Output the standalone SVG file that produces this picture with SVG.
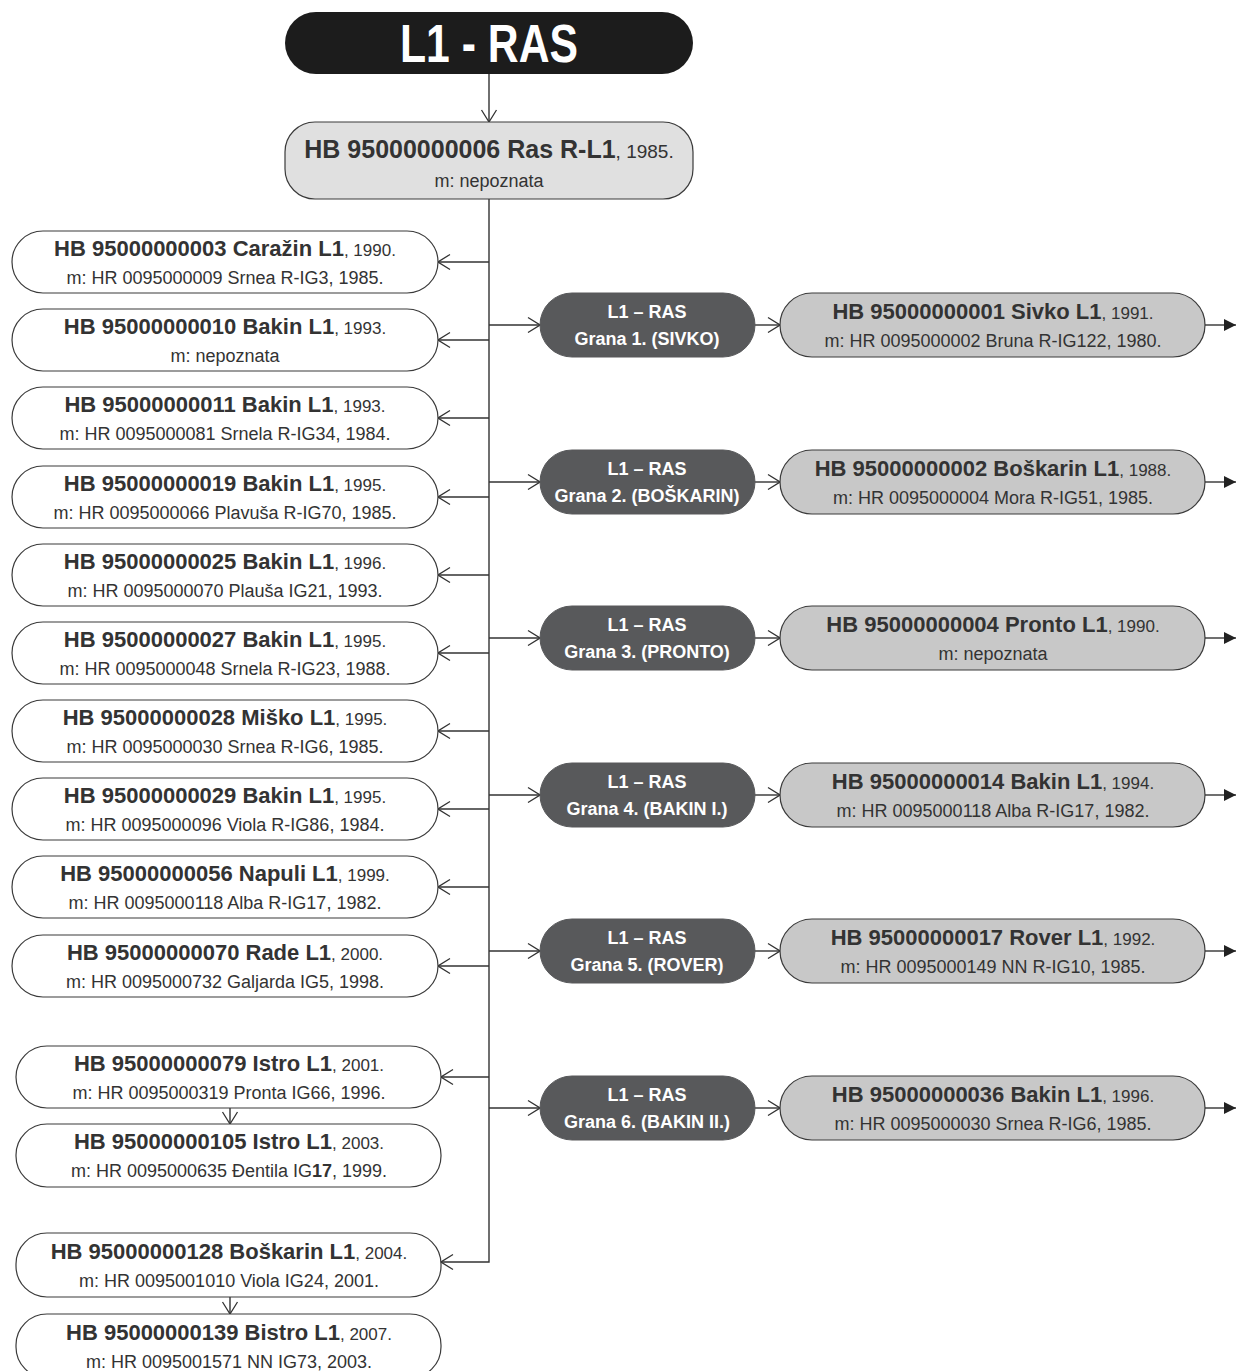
<svg xmlns="http://www.w3.org/2000/svg" width="1236" height="1371" viewBox="0 0 1236 1371">
<style>
text{font-family:"Liberation Sans",Arial,sans-serif;text-anchor:middle;fill:#333}
.b{font-weight:bold}
.t1{font-size:22px}
.t2{font-size:18px}
.yr{font-size:17px;font-weight:normal}
.left{fill:#fff;stroke:#3a3a3a;stroke-width:1.2}
.main{fill:#e0e0e0;stroke:#3a3a3a;stroke-width:1.2}
.right{fill:#c8c8c8;stroke:#3a3a3a;stroke-width:1.2}
.grana{fill:#58595b;stroke:#58595b}
.gt{fill:#fff;font-weight:bold;font-size:18px}
.con{fill:none;stroke:#333;stroke-width:1.4}
</style>
<defs>
<marker id="open" markerUnits="userSpaceOnUse" markerWidth="14" markerHeight="18" viewBox="0 0 14 18" refX="13" refY="9" orient="auto">
<path d="M1,1.5 L13,9 L1,16.5" fill="none" stroke="#333" stroke-width="1.3"/>
</marker>
<marker id="solid" markerUnits="userSpaceOnUse" markerWidth="12" markerHeight="12" viewBox="0 0 12 12" refX="12" refY="6" orient="auto">
<path d="M0,0 L12,6 L0,12 Z" fill="#222"/>
</marker>
</defs>

<g id="connectors">
<path class="con" d="M489,74 V122" marker-end="url(#open)"/>
<path class="con" d="M489,199 V1262 H441" marker-end="url(#open)"/>
<path class="con" d="M489,262 H438" marker-end="url(#open)"/>
<path class="con" d="M489,340 H438" marker-end="url(#open)"/>
<path class="con" d="M489,418 H438" marker-end="url(#open)"/>
<path class="con" d="M489,497 H438" marker-end="url(#open)"/>
<path class="con" d="M489,575 H438" marker-end="url(#open)"/>
<path class="con" d="M489,653 H438" marker-end="url(#open)"/>
<path class="con" d="M489,731 H438" marker-end="url(#open)"/>
<path class="con" d="M489,809 H438" marker-end="url(#open)"/>
<path class="con" d="M489,887 H438" marker-end="url(#open)"/>
<path class="con" d="M489,966 H438" marker-end="url(#open)"/>
<path class="con" d="M489,1077 H441" marker-end="url(#open)"/>
<path class="con" d="M230,1108 V1124" marker-end="url(#open)"/>
<path class="con" d="M230,1297 V1314" marker-end="url(#open)"/>
<path class="con" d="M489,325 H540" marker-end="url(#open)"/>
<path class="con" d="M489,482 H540" marker-end="url(#open)"/>
<path class="con" d="M489,638 H540" marker-end="url(#open)"/>
<path class="con" d="M489,795 H540" marker-end="url(#open)"/>
<path class="con" d="M489,951 H540" marker-end="url(#open)"/>
<path class="con" d="M489,1108 H540" marker-end="url(#open)"/>
<path class="con" d="M755,325 H780" marker-end="url(#open)"/>
<path class="con" d="M755,482 H780" marker-end="url(#open)"/>
<path class="con" d="M755,638 H780" marker-end="url(#open)"/>
<path class="con" d="M755,795 H780" marker-end="url(#open)"/>
<path class="con" d="M755,951 H780" marker-end="url(#open)"/>
<path class="con" d="M755,1108 H780" marker-end="url(#open)"/>
<path class="con" d="M1205,325 H1236" marker-end="url(#solid)"/>
<path class="con" d="M1205,482 H1236" marker-end="url(#solid)"/>
<path class="con" d="M1205,638 H1236" marker-end="url(#solid)"/>
<path class="con" d="M1205,795 H1236" marker-end="url(#solid)"/>
<path class="con" d="M1205,951 H1236" marker-end="url(#solid)"/>
<path class="con" d="M1205,1108 H1236" marker-end="url(#solid)"/>
</g>

<g id="title">
<rect x="285" y="12" width="408" height="62" rx="31" fill="#1c1c1c"/>
<text x="489" y="62" class="b" style="font-size:53px;fill:#fff" textLength="178" lengthAdjust="spacingAndGlyphs">L1 - RAS</text>
</g>

<g id="ras">
<rect class="main" x="285" y="122" width="408" height="77" rx="30"/>
<text x="489" y="158" class="b" style="font-size:25px">HB 95000000006 Ras R-L1<tspan style="font-size:19px;font-weight:normal">, 1985.</tspan></text>
<text x="489" y="187" class="t2">m: nepoznata</text>
</g>

<g id="n003">
<rect class="left" x="12" y="231" width="426" height="62" rx="31"/>
<text x="225" y="256" class="b t1">HB 95000000003 Caražin L1<tspan class="yr">, 1990.</tspan></text>
<text x="225" y="284" class="t2">m: HR 0095000009 Srnea R-IG3, 1985.</text>
</g>
<g id="n010">
<rect class="left" x="12" y="309" width="426" height="62" rx="31"/>
<text x="225" y="334" class="b t1">HB 95000000010 Bakin L1<tspan class="yr">, 1993.</tspan></text>
<text x="225" y="362" class="t2">m: nepoznata</text>
</g>
<g id="n011">
<rect class="left" x="12" y="387" width="426" height="62" rx="31"/>
<text x="225" y="412" class="b t1">HB 95000000011 Bakin L1<tspan class="yr">, 1993.</tspan></text>
<text x="225" y="440" class="t2">m: HR 0095000081 Srnela R-IG34, 1984.</text>
</g>
<g id="n019">
<rect class="left" x="12" y="466" width="426" height="62" rx="31"/>
<text x="225" y="491" class="b t1">HB 95000000019 Bakin L1<tspan class="yr">, 1995.</tspan></text>
<text x="225" y="519" class="t2">m: HR 0095000066 Plavuša R-IG70, 1985.</text>
</g>
<g id="n025">
<rect class="left" x="12" y="544" width="426" height="62" rx="31"/>
<text x="225" y="569" class="b t1">HB 95000000025 Bakin L1<tspan class="yr">, 1996.</tspan></text>
<text x="225" y="597" class="t2">m: HR 0095000070 Plauša IG21, 1993.</text>
</g>
<g id="n027">
<rect class="left" x="12" y="622" width="426" height="62" rx="31"/>
<text x="225" y="647" class="b t1">HB 95000000027 Bakin L1<tspan class="yr">, 1995.</tspan></text>
<text x="225" y="675" class="t2">m: HR 0095000048 Srnela R-IG23, 1988.</text>
</g>
<g id="n028">
<rect class="left" x="12" y="700" width="426" height="62" rx="31"/>
<text x="225" y="725" class="b t1">HB 95000000028 Miško L1<tspan class="yr">, 1995.</tspan></text>
<text x="225" y="753" class="t2">m: HR 0095000030 Srnea R-IG6, 1985.</text>
</g>
<g id="n029">
<rect class="left" x="12" y="778" width="426" height="62" rx="31"/>
<text x="225" y="803" class="b t1">HB 95000000029 Bakin L1<tspan class="yr">, 1995.</tspan></text>
<text x="225" y="831" class="t2">m: HR 0095000096 Viola R-IG86, 1984.</text>
</g>
<g id="n056">
<rect class="left" x="12" y="856" width="426" height="62" rx="31"/>
<text x="225" y="881" class="b t1">HB 95000000056 Napuli L1<tspan class="yr">, 1999.</tspan></text>
<text x="225" y="909" class="t2">m: HR 0095000118 Alba R-IG17, 1982.</text>
</g>
<g id="n070">
<rect class="left" x="12" y="935" width="426" height="62" rx="31"/>
<text x="225" y="960" class="b t1">HB 95000000070 Rade L1<tspan class="yr">, 2000.</tspan></text>
<text x="225" y="988" class="t2">m: HR 0095000732 Galjarda IG5, 1998.</text>
</g>
<g id="n079">
<rect class="left" x="16" y="1046" width="425" height="62" rx="31"/>
<text x="229" y="1071" class="b t1">HB 95000000079 Istro L1<tspan class="yr">, 2001.</tspan></text>
<text x="229" y="1099" class="t2">m: HR 0095000319 Pronta IG66, 1996.</text>
</g>
<g id="n105">
<rect class="left" x="16" y="1124" width="425" height="63" rx="31"/>
<text x="229" y="1149" class="b t1">HB 95000000105 Istro L1<tspan class="yr">, 2003.</tspan></text>
<text x="229" y="1177" class="t2">m: HR 0095000635 Đentila IG<tspan class="b">17</tspan>, 1999.</text>
</g>
<g id="n128">
<rect class="left" x="16" y="1233" width="425" height="64" rx="31"/>
<text x="229" y="1259" class="b t1">HB 95000000128 Boškarin L1<tspan class="yr">, 2004.</tspan></text>
<text x="229" y="1287" class="t2">m: HR 0095001010 Viola IG24, 2001.</text>
</g>
<g id="n139">
<rect class="left" x="16" y="1314" width="425" height="64" rx="31"/>
<text x="229" y="1340" class="b t1">HB 95000000139 Bistro L1<tspan class="yr">, 2007.</tspan></text>
<text x="229" y="1368" class="t2">m: HR 0095001571 NN IG73, 2003.</text>
</g>

<g id="grana1">
<rect class="grana" x="540" y="293" width="215" height="64" rx="32"/>
<text x="647" y="318" class="gt">L1 – RAS</text>
<text x="647" y="345" class="gt">Grana 1. (SIVKO)</text>
</g>
<g id="grana2">
<rect class="grana" x="540" y="450" width="215" height="64" rx="32"/>
<text x="647" y="475" class="gt">L1 – RAS</text>
<text x="647" y="502" class="gt">Grana 2. (BOŠKARIN)</text>
</g>
<g id="grana3">
<rect class="grana" x="540" y="606" width="215" height="64" rx="32"/>
<text x="647" y="631" class="gt">L1 – RAS</text>
<text x="647" y="658" class="gt">Grana 3. (PRONTO)</text>
</g>
<g id="grana4">
<rect class="grana" x="540" y="763" width="215" height="64" rx="32"/>
<text x="647" y="788" class="gt">L1 – RAS</text>
<text x="647" y="815" class="gt">Grana 4. (BAKIN I.)</text>
</g>
<g id="grana5">
<rect class="grana" x="540" y="919" width="215" height="64" rx="32"/>
<text x="647" y="944" class="gt">L1 – RAS</text>
<text x="647" y="971" class="gt">Grana 5. (ROVER)</text>
</g>
<g id="grana6">
<rect class="grana" x="540" y="1076" width="215" height="64" rx="32"/>
<text x="647" y="1101" class="gt">L1 – RAS</text>
<text x="647" y="1128" class="gt">Grana 6. (BAKIN II.)</text>
</g>

<g id="n001">
<rect class="right" x="780" y="293" width="425" height="64" rx="32"/>
<text x="993" y="319" class="b t1">HB 95000000001 Sivko L1<tspan class="yr">, 1991.</tspan></text>
<text x="993" y="347" class="t2">m: HR 0095000002 Bruna R-IG122, 1980.</text>
</g>
<g id="n002">
<rect class="right" x="780" y="450" width="425" height="64" rx="32"/>
<text x="993" y="476" class="b t1">HB 95000000002 Boškarin L1<tspan class="yr">, 1988.</tspan></text>
<text x="993" y="504" class="t2">m: HR 0095000004 Mora R-IG51, 1985.</text>
</g>
<g id="n004">
<rect class="right" x="780" y="606" width="425" height="64" rx="32"/>
<text x="993" y="632" class="b t1">HB 95000000004 Pronto L1<tspan class="yr">, 1990.</tspan></text>
<text x="993" y="660" class="t2">m: nepoznata</text>
</g>
<g id="n014">
<rect class="right" x="780" y="763" width="425" height="64" rx="32"/>
<text x="993" y="789" class="b t1">HB 95000000014 Bakin L1<tspan class="yr">, 1994.</tspan></text>
<text x="993" y="817" class="t2">m: HR 0095000118 Alba R-IG17, 1982.</text>
</g>
<g id="n017">
<rect class="right" x="780" y="919" width="425" height="64" rx="32"/>
<text x="993" y="945" class="b t1">HB 95000000017 Rover L1<tspan class="yr">, 1992.</tspan></text>
<text x="993" y="973" class="t2">m: HR 0095000149 NN R-IG10, 1985.</text>
</g>
<g id="n036">
<rect class="right" x="780" y="1076" width="425" height="64" rx="32"/>
<text x="993" y="1102" class="b t1">HB 95000000036 Bakin L1<tspan class="yr">, 1996.</tspan></text>
<text x="993" y="1130" class="t2">m: HR 0095000030 Srnea R-IG6, 1985.</text>
</g>
</svg>
